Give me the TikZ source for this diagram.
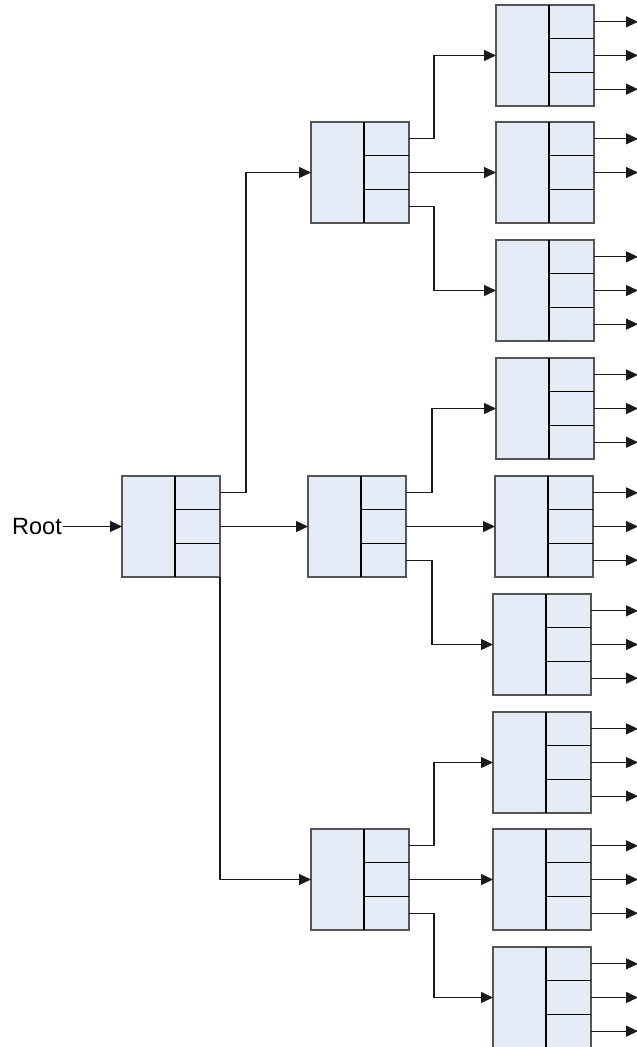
\documentclass[tikz,border=0pt]{standalone}
\usepackage{fontspec}
\setmainfont{Liberation Sans}
\usetikzlibrary{calc,arrows.meta}
\definecolor{boxfill}{HTML}{E6ECF7}
\definecolor{boxborder}{HTML}{555555}
\definecolor{linec}{HTML}{1A1A1A}
\begin{document}
\begin{tikzpicture}[x=1pt,y=-1pt,
  rec/.style={draw=boxborder, fill=boxfill, line width=1.3pt, minimum width=98pt, minimum height=101pt, inner sep=0pt, outer sep=0pt, anchor=north west},
  divl/.style={draw=black, line width=1.2pt},
  arr/.style={draw=linec, line width=1.2pt, -{Triangle[length=12pt,width=11pt]}},
  lbl/.style={font=\fontsize{23.5}{28}\selectfont, inner sep=1pt, anchor=east}]
\fill[white] (0,0) rectangle (637,1047);
\useasboundingbox (0,0) rectangle (637,1047);

% boxes
\node[rec] (root) at (122,476) {};
\node[rec] (mid1) at (311,122) {};
\node[rec] (mid2) at (308,476) {};
\node[rec] (mid3) at (311,829) {};
\node[rec] (leaf1) at (496,5) {};
\node[rec] (leaf2) at (496,122) {};
\node[rec] (leaf3) at (496,240) {};
\node[rec] (leaf4) at (496,358) {};
\node[rec] (leaf5) at (495,476) {};
\node[rec] (leaf6) at (493,594) {};
\node[rec] (leaf7) at (493,712) {};
\node[rec] (leaf8) at (493,829) {};
\node[rec] (leaf9) at (493,947) {};

% dividers and ports
\foreach \n in {root,mid1,mid2,mid3,leaf1,leaf2,leaf3,leaf4,leaf5,leaf6,leaf7,leaf8,leaf9}{
  \coordinate (\n-d) at ([xshift=53pt]\n.north west);
  \draw[divl] (\n-d) -- ([xshift=53pt]\n.south west);
  \coordinate (\n-r1) at ($(\n.north east)!1/3!(\n.south east)$);
  \coordinate (\n-r2) at ($(\n.north east)!2/3!(\n.south east)$);
  \draw[divl] (\n-r1) -- (\n-r1 -| \n-d);
  \draw[divl] (\n-r2) -- (\n-r2 -| \n-d);
  \coordinate (\n-p1) at ($(\n.north east)!1/6!(\n.south east)$);
  \coordinate (\n-p2) at ($(\n.north east)!1/2!(\n.south east)$);
  \coordinate (\n-p3) at ($(\n.north east)!5/6!(\n.south east)$);
}

% root label
\node[lbl] (rootlbl) at (63,526.5) {Root};
\draw[arr] (rootlbl.east) -- (root.west);

% elbow coordinates
\coordinate (rx) at (246,0);
\coordinate (m1x) at (434,0);
\coordinate (m2x) at (432,0);
\coordinate (m3x) at (434,0);
\coordinate (endx) at (638,0);

% root connectors
\draw[arr] (root-p1) -- (root-p1 -| rx) |- (mid1.west);
\draw[arr] (root-p2) -- (mid2.west);
\draw[arr] (root.south east) |- (mid3.west);

% mid1
\draw[arr] (mid1-p1) -- (mid1-p1 -| m1x) |- (leaf1.west);
\draw[arr] (mid1-p2) -- (leaf2.west);
\draw[arr] (mid1-p3) -- (mid1-p3 -| m1x) |- (leaf3.west);
% mid2
\draw[arr] (mid2-p1) -- (mid2-p1 -| m2x) |- (leaf4.west);
\draw[arr] (mid2-p2) -- (leaf5.west);
\draw[arr] (mid2-p3) -- (mid2-p3 -| m2x) |- (leaf6.west);
% mid3
\draw[arr] (mid3-p1) -- (mid3-p1 -| m3x) |- (leaf7.west);
\draw[arr] (mid3-p2) -- (leaf8.west);
\draw[arr] (mid3-p3) -- (mid3-p3 -| m3x) |- (leaf9.west);

% leaf outputs
\foreach \n in {leaf1,leaf3,leaf4,leaf5,leaf6,leaf7,leaf8,leaf9}{
  \foreach \k in {1,2,3}{
    \draw[arr] (\n-p\k) -- (\n-p\k -| endx);
  }
}
\foreach \k in {1,2}{
  \draw[arr] (leaf2-p\k) -- (leaf2-p\k -| endx);
}
\end{tikzpicture}
\end{document}
